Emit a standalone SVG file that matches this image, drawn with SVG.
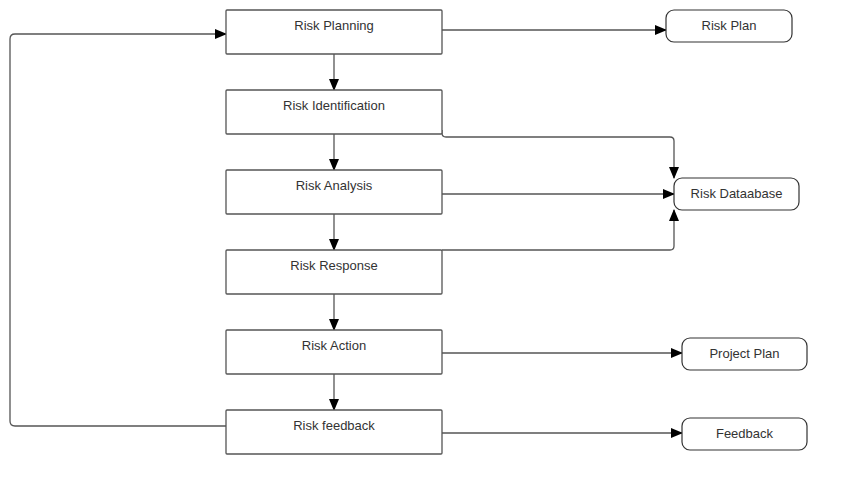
<svg xmlns="http://www.w3.org/2000/svg" width="847" height="495" viewBox="0 0 847 495">
<style>
.box{fill:#fff;stroke:#555;stroke-width:1.3}
.out{fill:#fff;stroke:#333;stroke-width:1.2}
.lbl{font-family:"Liberation Sans",Arial,sans-serif;font-size:13px;fill:#333;text-anchor:middle}
.c{fill:none;stroke:#555;stroke-width:1.3}
</style>
<defs>
<marker id="ah" markerWidth="12" markerHeight="10" refX="11" refY="5" orient="auto" markerUnits="userSpaceOnUse">
<path d="M0,0 L12,5 L0,10 Z" fill="#000"/>
</marker>
</defs>
<rect width="847" height="495" fill="#fff"/>
<g id="connectors">
<path class="c" d="M334,54 L334,90" marker-end="url(#ah)"/>
<path class="c" d="M334,134 L334,170" marker-end="url(#ah)"/>
<path class="c" d="M334,214 L334,250" marker-end="url(#ah)"/>
<path class="c" d="M334,294 L334,330" marker-end="url(#ah)"/>
<path class="c" d="M334,374 L334,410" marker-end="url(#ah)"/>
<path class="c" d="M442,30 L666,30" marker-end="url(#ah)"/>
<path class="c" d="M442,130 L442,133 Q442,137 446,137 L670,137 Q674,137 674,141 L674,178" marker-end="url(#ah)"/>
<path class="c" d="M442,194 L674,194" marker-end="url(#ah)"/>
<path class="c" d="M442,250 L670,250 Q674,250 674,246 L674,210" marker-end="url(#ah)"/>
<path class="c" d="M442,353 L682,353" marker-end="url(#ah)"/>
<path class="c" d="M442,433 L682,433" marker-end="url(#ah)"/>
<path class="c" d="M226,426 L15,426 Q10,426 10,421 L10,39 Q10,34 15,34 L226,34" marker-end="url(#ah)"/>
</g>
<g id="risk-planning"><rect class="box" x="226" y="10" width="216" height="44" rx="1"/><text class="lbl" x="334" y="30">Risk Planning</text></g>
<g id="risk-identification"><rect class="box" x="226" y="90" width="216" height="44" rx="1"/><text class="lbl" x="334" y="110">Risk Identification</text></g>
<g id="risk-analysis"><rect class="box" x="226" y="170" width="216" height="44" rx="1"/><text class="lbl" x="334" y="190">Risk Analysis</text></g>
<g id="risk-response"><rect class="box" x="226" y="250" width="216" height="44" rx="1"/><text class="lbl" x="334" y="270">Risk Response</text></g>
<g id="risk-action"><rect class="box" x="226" y="330" width="216" height="44" rx="1"/><text class="lbl" x="334" y="350">Risk Action</text></g>
<g id="risk-feedback"><rect class="box" x="226" y="410" width="216" height="44" rx="1"/><text class="lbl" x="334" y="430">Risk feedback</text></g>
<g id="risk-plan"><rect class="out" x="666" y="10" width="126" height="32" rx="8"/><text class="lbl" x="729" y="30">Risk Plan</text></g>
<g id="risk-database"><rect class="out" x="674" y="178" width="125" height="32" rx="8"/><text class="lbl" x="736.5" y="198">Risk Dataabase</text></g>
<g id="project-plan"><rect class="out" x="682" y="338" width="125" height="32" rx="8"/><text class="lbl" x="744.5" y="358">Project Plan</text></g>
<g id="feedback"><rect class="out" x="682" y="418" width="125" height="32" rx="8"/><text class="lbl" x="744.5" y="438">Feedback</text></g>
</svg>
